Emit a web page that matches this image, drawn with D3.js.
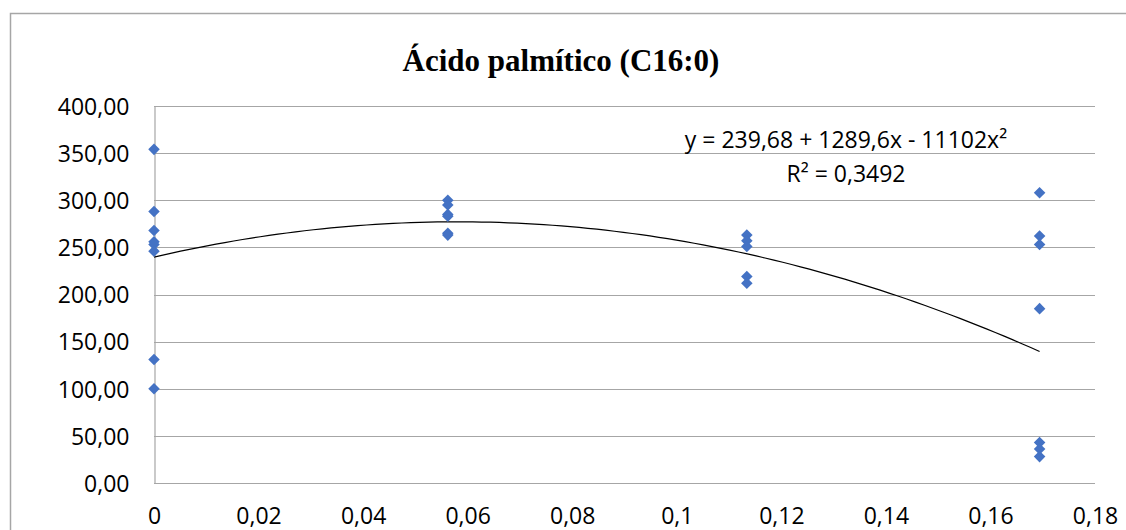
<!DOCTYPE html>
<html>
<head>
<meta charset="utf-8">
<script src="https://cdn.jsdelivr.net/npm/d3@7"></script>
<style>
  body { margin: 0; background: #fff; }
  svg { display: block; }
  .tick text { font-family: "Open Sans", sans-serif; font-size: 23px; fill: #000; }
</style>
</head>
<body>
<div id="container"></div>
<script>
// chart data
const doses = [0, 0.0562, 0.1134, 0.1694];
const valuesDose0 = [354, 288, 268, 256, 253, 246, 131, 100];
const valuesDose1 = [300, 295, 285, 283, 265, 263];
const valuesDose2 = [263, 257, 251, 219, 212];
const valuesDose3 = [308, 262, 253, 185, 43, 36, 28];
const xTicks = [0, 0.02, 0.04, 0.06, 0.08, 0.1, 0.12, 0.14, 0.16, 0.18];
const yTicks = [0, 50, 100, 150, 200, 250, 300, 350, 400];
const trendCoef = [239.68, 1289.6, -11102];   // a + b x + c x^2
const title = "Ácido palmítico (C16:0)";
const eqLines = ["y = 239,68 + 1289,6x - 11102x²", "R² = 0,3492"];

const width = 1126, height = 530;
const plot = { left: 154, right: 1095, top: 106, bottom: 483 };

var points = [];
[valuesDose0, valuesDose1, valuesDose2, valuesDose3].forEach(function (vals, i) {
    vals.forEach(function (v) { points.push({ x: doses[i], y: v }); });
});

const fmtComma = d3.formatLocale({ decimal: ",", thousands: ".", grouping: [3], currency: ["", ""] });

let svg = d3.select("#container").append("svg")
    .attr("width", width)
    .attr("height", height);

// outer chart border (runs off the right and bottom edge)
svg.append("rect")
    .attr("x", 10.5).attr("y", 13.5)
    .attr("width", 1200).attr("height", 600)
    .style("fill", "none")
    .style("stroke", "#a6a6a6")
    .style("stroke-width", 1.5);

let x = d3.scaleLinear().domain([0, 0.18]).range([plot.left, plot.right]);
let y = d3.scaleLinear().domain([0, 400]).range([plot.bottom, plot.top]);

// gridlines
svg.append("g")
    .selectAll("line")
    .data(yTicks)
    .enter().append("line")
    .attr("x1", plot.left).attr("x2", plot.right)
    .attr("y1", d => Math.round(y(d)) + 0.5).attr("y2", d => Math.round(y(d)) + 0.5)
    .style("stroke", "#a6a6a6")
    .style("stroke-width", 1.2);

// y axis
let yAxis = svg.append("g")
    .attr("transform", "translate(" + (plot.left + 0.5) + ",0)")
    .call(d3.axisLeft(y).tickValues(yTicks).tickSize(0).tickPadding(25)
        .tickFormat(d => fmtComma.format(".2f")(d)));
yAxis.select(".domain").style("stroke", "#a6a6a6").style("stroke-width", 1.2);
yAxis.selectAll(".tick text").attr("dy", "0.36em");

// x axis labels (no line, sits under the 0 gridline)
let xAxis = svg.append("g")
    .attr("transform", "translate(0," + plot.bottom + ")")
    .call(d3.axisBottom(x).tickValues(xTicks).tickSize(0).tickPadding(25)
        .tickFormat(d => fmtComma.format("~g")(d)));
xAxis.select(".domain").remove();

// trendline from the fitted equation
let trendX = d3.range(0, 101).map(i => doses[doses.length - 1] * i / 100);
let line = d3.line()
    .x(d => x(d))
    .y(d => y(trendCoef[0] + trendCoef[1] * d + trendCoef[2] * d * d));
svg.append("path")
    .datum(trendX)
    .attr("d", line)
    .style("fill", "none")
    .style("stroke", "#000")
    .style("stroke-width", 1.2);

// markers
svg.append("g")
    .selectAll("path")
    .data(points)
    .enter().append("path")
    .attr("d", d3.symbol().type(d3.symbolDiamond2).size(85))
    .attr("transform", d => "translate(" + x(d.x) + "," + y(d.y) + ")")
    .style("fill", "#4472c4");

// title
svg.append("text")
    .attr("x", 561).attr("y", 71)
    .attr("text-anchor", "middle")
    .style("font-family", "'Liberation Serif', 'Times New Roman', serif")
    .style("font-weight", "bold")
    .style("font-size", "31px")
    .text(title);

// equation label
svg.append("g")
    .selectAll("text")
    .data(eqLines)
    .enter().append("text")
    .attr("x", 846)
    .attr("y", (d, i) => 148 + i * 34)
    .attr("text-anchor", "middle")
    .style("font-family", "'Open Sans', sans-serif")
    .style("font-size", "23px")
    .text(d => d);
</script>
</body>
</html>
